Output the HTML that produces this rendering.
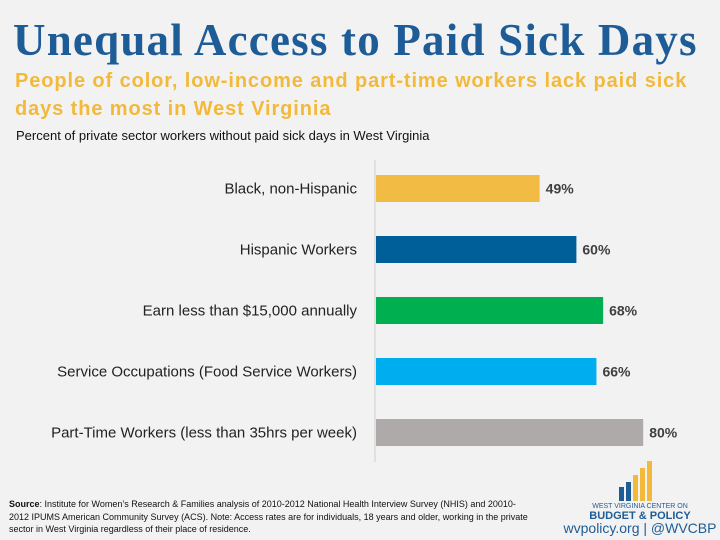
<!DOCTYPE html>
<html><head><meta charset="utf-8"><style>
body{margin:0;background:#f2f2f2;}
#wrap{position:relative;width:720px;height:540px;overflow:hidden;background:#f2f2f2;font-family:"Liberation Sans",sans-serif;}
.t{position:absolute;white-space:nowrap;}
</style></head><body>
<div id="wrap">
<div class="t" style="left:13px;top:14px;font-family:'Liberation Serif',serif;font-weight:bold;font-size:45px;color:#1d5c96;letter-spacing:1.2px;">Unequal Access to Paid Sick Days</div>
<div class="t" style="left:15px;top:67px;font-weight:bold;font-size:20px;line-height:28px;color:#f2b93b;letter-spacing:0.9px;">People of color, low-income and part-time workers lack paid sick<br>days the most in West Virginia</div>
<div class="t" style="left:16px;top:128px;font-size:13px;color:#111;">Percent of private sector workers without paid sick days in West Virginia</div>
<svg id="chart" width="720" height="540" style="position:absolute;left:0;top:0"></svg>
<div class="t" style="left:9px;top:498px;font-size:9px;line-height:12.5px;color:#111;"><b>Source</b>: Institute for Women’s Research &amp; Families analysis of 2010-2012 National Health Interview Survey (NHIS) and 20010-<br>2012 IPUMS American Community Survey (ACS). Note: Access rates are for individuals, 18 years and older, working in the private<br>sector in West Virginia regardless of their place of residence.</div>
<svg width="720" height="540" style="position:absolute;left:0;top:0">
<rect x="619" y="487" width="5" height="14" fill="#1d5c96"/><rect x="626" y="482" width="5" height="19" fill="#1d5c96"/>
<rect x="633" y="475" width="5" height="26" fill="#f2b93b"/><rect x="640" y="468" width="5" height="33" fill="#f2b93b"/><rect x="647" y="461" width="5" height="40" fill="#f2b93b"/>
<text x="640" y="508" font-size="7" fill="#1d5c96" text-anchor="middle" font-family="Liberation Sans">WEST VIRGINIA CENTER ON</text>
<text x="640" y="519" font-size="11" font-weight="bold" fill="#1d5c96" text-anchor="middle" font-family="Liberation Sans">BUDGET &amp; POLICY</text>
<text x="640" y="533" font-size="14" fill="#1d5c96" text-anchor="middle" font-family="Liberation Sans">wvpolicy.org  |  @WVCBP</text>
</svg>
</div>
<script>
const categories=["Black, non-Hispanic","Hispanic Workers","Earn less than $15,000 annually","Service Occupations (Food Service Workers)","Part-Time Workers (less than 35hrs per week)"];
const values=[49,60,68,66,80];
const colors=["#f2bc44","#005f99","#00b050","#00aeef","#adaaa9"];
const svg=document.getElementById('chart');
const NS='http://www.w3.org/2000/svg';
const x0=376, pxPer=3.34, y0=175, step=61, bh=27;
function xs(v){return x0+v*pxPer;}
function ys(i){return y0+i*step;}
const ax=document.createElementNS(NS,'line');
ax.setAttribute('x1',375);ax.setAttribute('x2',375);ax.setAttribute('y1',160);ax.setAttribute('y2',462);
ax.setAttribute('stroke','#cfcfcf');ax.setAttribute('stroke-width','1');


svg.appendChild(ax);
categories.forEach((c,i)=>{
 const r=document.createElementNS(NS,'rect');
 r.setAttribute('x',x0);r.setAttribute('y',ys(i));r.setAttribute('width',xs(values[i])-x0);r.setAttribute('height',bh);r.setAttribute('fill',colors[i]);
 
 
 svg.appendChild(r);
 const l=document.createElementNS(NS,'text');
 l.setAttribute('x',357);l.setAttribute('y',ys(i)+bh/2+5);l.setAttribute('text-anchor','end');
 l.setAttribute('font-size','15');l.setAttribute('fill','#222');l.setAttribute('font-family','Liberation Sans');
 l.textContent=c;
 
 
 svg.appendChild(l);
 const v=document.createElementNS(NS,'text');
 v.setAttribute('x',xs(values[i])+6);v.setAttribute('y',ys(i)+bh/2+5);
 v.setAttribute('font-size','14');v.setAttribute('font-weight','bold');v.setAttribute('fill','#404040');v.setAttribute('font-family','Liberation Sans');
 v.textContent=values[i]+'%';
 
 
 svg.appendChild(v);
});
</script>
</body></html>
